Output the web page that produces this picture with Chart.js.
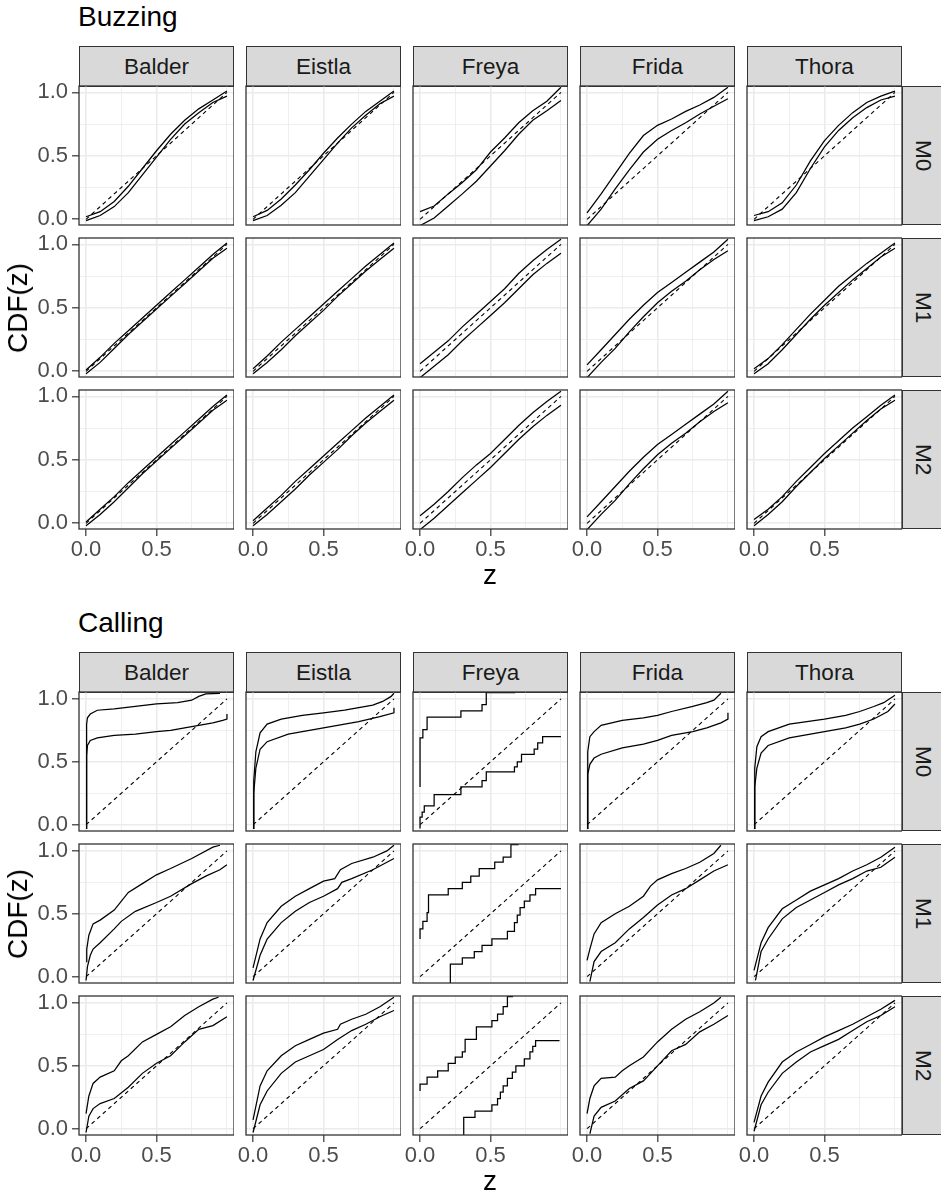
<!DOCTYPE html>
<html>
<head>
<meta charset="utf-8">
<script src="https://cdn.jsdelivr.net/npm/chart.js@4.4.1/dist/chart.umd.min.js"></script>
<style>
  body { margin: 0; background: #fff; font-family: "Liberation Sans", Arial, Helvetica, sans-serif; }
  #page { position: relative; width: 941px; height: 1195px; overflow: hidden; background: #fff; }
  canvas { position: absolute; }
  .title { position: absolute; font-size: 28px; line-height: 28px; color: #000; white-space: nowrap; }
  .strip { position: absolute; box-sizing: border-box; background: #d9d9d9; border: 1.3px solid #333;
           color: #1a1a1a; font-size: 22.5px; display: flex; align-items: center; justify-content: center; }
  .strip.side span { writing-mode: vertical-rl; }
  .axt { position: absolute; font-size: 28px; line-height: 28px; color: #000; white-space: nowrap; }
</style>
</head>
<body>
<div id="page"></div>
<script>
// facets
const sections = ["Buzzing", "Calling"];
const animals = ["Balder", "Eistla", "Freya", "Frida", "Thora"];
const models = ["M0", "M1", "M2"];

// axes
const xBreaks = [0, 0.25, 0.5, 0.75, 1];
const xLabels = ["0.0", "", "0.5", "", ""];
const yBreaks = [0, 0.25, 0.5, 0.75, 1];
const yLabels = ["0.0", "", "0.5", "", "1.0"];
const diagonal = [[0, 0], [1, 1]];

// Buzzing: envelope values at zGrid, one row per animal
const zGrid = [0, 0.1, 0.2, 0.3, 0.4, 0.5, 0.6, 0.7, 0.8, 0.9, 1.0];
const buzzM0Hi = [
  [0.02, 0.06, 0.14, 0.26, 0.40, 0.54, 0.67, 0.78, 0.87, 0.94, 1.01],
  [0.02, 0.07, 0.16, 0.27, 0.39, 0.52, 0.64, 0.75, 0.85, 0.93, 1.01],
  [0.06, 0.105, 0.20, 0.29, 0.39, 0.53, 0.64, 0.76, 0.855, 0.93, 1.04],
  [0.05, 0.20, 0.36, 0.52, 0.66, 0.74, 0.79, 0.85, 0.90, 0.96, 1.04],
  [0.03, 0.06, 0.13, 0.27, 0.46, 0.62, 0.74, 0.84, 0.92, 0.97, 1.01]
];
const buzzM0Lo = [
  [-0.01, 0.03, 0.10, 0.21, 0.35, 0.49, 0.63, 0.75, 0.84, 0.92, 0.97],
  [-0.01, 0.03, 0.11, 0.21, 0.34, 0.47, 0.60, 0.72, 0.82, 0.91, 0.97],
  [-0.05, 0.01, 0.105, 0.20, 0.30, 0.42, 0.54, 0.67, 0.78, 0.855, 0.935],
  [-0.05, 0.08, 0.24, 0.39, 0.53, 0.63, 0.70, 0.76, 0.83, 0.89, 0.95],
  [-0.01, 0.02, 0.08, 0.21, 0.40, 0.57, 0.70, 0.80, 0.88, 0.94, 0.97]
];
const buzzM1Hi = [
  [0.01, 0.11, 0.22, 0.32, 0.42, 0.52, 0.62, 0.72, 0.82, 0.92, 1.01],
  [0.02, 0.12, 0.23, 0.33, 0.43, 0.53, 0.63, 0.73, 0.83, 0.92, 1.01],
  [0.06, 0.15, 0.24, 0.35, 0.45, 0.55, 0.65, 0.77, 0.87, 0.96, 1.04],
  [0.05, 0.17, 0.29, 0.41, 0.52, 0.62, 0.70, 0.78, 0.86, 0.94, 1.04],
  [0.02, 0.10, 0.21, 0.33, 0.45, 0.56, 0.67, 0.76, 0.85, 0.93, 1.01]
];
const buzzM1Lo = [
  [-0.02, 0.07, 0.18, 0.29, 0.39, 0.49, 0.59, 0.69, 0.79, 0.89, 0.97],
  [-0.02, 0.07, 0.17, 0.28, 0.38, 0.48, 0.59, 0.69, 0.79, 0.88, 0.97],
  [-0.05, 0.04, 0.13, 0.24, 0.34, 0.44, 0.54, 0.65, 0.76, 0.85, 0.93],
  [-0.05, 0.07, 0.18, 0.31, 0.43, 0.54, 0.63, 0.71, 0.80, 0.88, 0.95],
  [-0.02, 0.06, 0.17, 0.29, 0.41, 0.52, 0.62, 0.72, 0.81, 0.90, 0.97]
];
const buzzM2Hi = [
  [0.01, 0.11, 0.21, 0.32, 0.42, 0.52, 0.62, 0.72, 0.82, 0.92, 1.01],
  [0.02, 0.12, 0.22, 0.33, 0.43, 0.53, 0.63, 0.73, 0.83, 0.92, 1.01],
  [0.06, 0.15, 0.25, 0.36, 0.46, 0.55, 0.66, 0.77, 0.87, 0.96, 1.04],
  [0.05, 0.17, 0.29, 0.41, 0.52, 0.62, 0.70, 0.78, 0.86, 0.94, 1.04],
  [0.03, 0.11, 0.21, 0.33, 0.44, 0.55, 0.65, 0.75, 0.84, 0.93, 1.01]
];
const buzzM2Lo = [
  [-0.02, 0.07, 0.17, 0.28, 0.39, 0.49, 0.59, 0.69, 0.79, 0.89, 0.97],
  [-0.02, 0.07, 0.17, 0.27, 0.38, 0.48, 0.58, 0.69, 0.79, 0.88, 0.97],
  [-0.05, 0.04, 0.14, 0.24, 0.34, 0.44, 0.55, 0.66, 0.76, 0.85, 0.93],
  [-0.05, 0.07, 0.18, 0.31, 0.43, 0.54, 0.63, 0.71, 0.80, 0.88, 0.95],
  [-0.02, 0.07, 0.17, 0.29, 0.40, 0.51, 0.61, 0.71, 0.81, 0.90, 0.97]
];

// Calling: [z, CDF] points, one list per animal (Freya is a step function)
const callM0Hi = [
  [[0, -0.03], [0.004, 0.80], [0.01, 0.85], [0.03, 0.88], [0.08, 0.91], [0.2, 0.92], [0.35, 0.94], [0.5, 0.96], [0.65, 0.97], [0.75, 0.99], [0.8, 1.02], [0.85, 1.04], [0.95, 1.045]],
  [[0, -0.03], [0.005, 0.35], [0.02, 0.58], [0.05, 0.73], [0.1, 0.80], [0.2, 0.84], [0.35, 0.87], [0.5, 0.89], [0.65, 0.91], [0.75, 0.93], [0.85, 0.95], [0.92, 0.98], [0.98, 1.02], [1.0, 1.045]],
  [[0, 0.30], [0, 0.61], [0.02, 0.69], [0.05, 0.755], [0.29, 0.855], [0.44, 0.905], [0.47, 0.955], [0.675, 1.05]],
  [[0, -0.03], [0.005, 0.58], [0.02, 0.70], [0.05, 0.74], [0.1, 0.79], [0.25, 0.83], [0.4, 0.85], [0.5, 0.87], [0.6, 0.90], [0.75, 0.94], [0.85, 0.97], [0.9, 0.99], [0.95, 1.045]],
  [[0, -0.03], [0.005, 0.45], [0.02, 0.62], [0.05, 0.70], [0.1, 0.74], [0.25, 0.80], [0.5, 0.84], [0.65, 0.87], [0.75, 0.90], [0.85, 0.94], [0.92, 0.97], [1.0, 1.03]]
];
const callM0Lo = [
  [[0, -0.03], [0.004, 0.55], [0.01, 0.63], [0.03, 0.67], [0.08, 0.69], [0.2, 0.71], [0.35, 0.72], [0.5, 0.74], [0.6, 0.75], [0.7, 0.77], [0.8, 0.79], [0.9, 0.81], [0.97, 0.83], [1.0, 0.84], [1.0, 0.88]],
  [[0, -0.03], [0.005, 0.25], [0.02, 0.45], [0.05, 0.60], [0.1, 0.66], [0.25, 0.72], [0.5, 0.77], [0.75, 0.82], [0.9, 0.86], [1.0, 0.89], [1.0, 0.93]],
  [[0, -0.03], [0, 0.02], [0.015, 0.06], [0.03, 0.10], [0.1, 0.15], [0.29, 0.24], [0.44, 0.30], [0.47, 0.35], [0.67, 0.42], [0.69, 0.46], [0.72, 0.50], [0.81, 0.56], [0.835, 0.60], [0.87, 0.65], [1.0, 0.70]],
  [[0, -0.03], [0.005, 0.40], [0.02, 0.48], [0.05, 0.53], [0.1, 0.56], [0.25, 0.61], [0.4, 0.64], [0.5, 0.67], [0.6, 0.71], [0.75, 0.74], [0.85, 0.77], [0.95, 0.81], [1.0, 0.84], [1.0, 0.89]],
  [[0, -0.03], [0.005, 0.30], [0.02, 0.45], [0.05, 0.57], [0.1, 0.63], [0.25, 0.69], [0.5, 0.74], [0.65, 0.77], [0.75, 0.80], [0.85, 0.84], [0.95, 0.90], [1.0, 0.96]]
];
const callM1Hi = [
  [[0, 0.12], [0.005, 0.22], [0.02, 0.33], [0.05, 0.42], [0.1, 0.45], [0.2, 0.53], [0.3, 0.67], [0.4, 0.74], [0.5, 0.81], [0.6, 0.86], [0.75, 0.94], [0.9, 1.03], [0.95, 1.045]],
  [[0, 0.07], [0.05, 0.30], [0.1, 0.43], [0.2, 0.56], [0.3, 0.64], [0.4, 0.70], [0.5, 0.76], [0.58, 0.78], [0.62, 0.85], [0.7, 0.90], [0.85, 0.95], [0.95, 1.0], [1.0, 1.045]],
  [[0, 0.30], [0.02, 0.38], [0.05, 0.44], [0.06, 0.51], [0.20, 0.65], [0.30, 0.70], [0.36, 0.75], [0.42, 0.80], [0.53, 0.86], [0.59, 0.91], [0.645, 0.95], [0.70, 1.05]],
  [[0, 0.13], [0.02, 0.22], [0.05, 0.34], [0.1, 0.43], [0.2, 0.50], [0.3, 0.56], [0.4, 0.64], [0.45, 0.72], [0.5, 0.77], [0.6, 0.82], [0.7, 0.86], [0.8, 0.91], [0.9, 0.98], [0.95, 1.045]],
  [[0, 0.05], [0.05, 0.27], [0.1, 0.39], [0.2, 0.54], [0.3, 0.61], [0.4, 0.68], [0.5, 0.73], [0.6, 0.78], [0.7, 0.84], [0.8, 0.89], [0.9, 0.95], [1.0, 1.03]]
];
const callM1Lo = [
  [[0, -0.03], [0.01, 0.08], [0.03, 0.17], [0.05, 0.22], [0.1, 0.27], [0.2, 0.38], [0.25, 0.44], [0.35, 0.52], [0.5, 0.59], [0.6, 0.64], [0.75, 0.74], [0.85, 0.80], [0.95, 0.85], [1.0, 0.89]],
  [[0, -0.03], [0.05, 0.17], [0.1, 0.30], [0.2, 0.43], [0.3, 0.52], [0.4, 0.59], [0.5, 0.64], [0.6, 0.70], [0.63, 0.75], [0.7, 0.78], [0.85, 0.85], [0.95, 0.91], [1.0, 0.94]],
  [[0.215, -0.05], [0.215, 0.06], [0.30, 0.10], [0.385, 0.15], [0.44, 0.20], [0.51, 0.25], [0.62, 0.30], [0.67, 0.36], [0.69, 0.43], [0.71, 0.49], [0.74, 0.55], [0.78, 0.60], [0.82, 0.65], [1.0, 0.70]],
  [[0.02, -0.04], [0.05, 0.12], [0.1, 0.20], [0.2, 0.27], [0.3, 0.38], [0.4, 0.47], [0.5, 0.57], [0.6, 0.65], [0.7, 0.70], [0.8, 0.77], [0.9, 0.84], [1.0, 0.89]],
  [[0.01, -0.03], [0.05, 0.20], [0.1, 0.30], [0.2, 0.46], [0.3, 0.55], [0.4, 0.61], [0.5, 0.67], [0.6, 0.73], [0.7, 0.78], [0.8, 0.84], [0.9, 0.87], [1.0, 0.95]]
];
const callM2Hi = [
  [[0, 0.12], [0.02, 0.26], [0.05, 0.36], [0.1, 0.41], [0.2, 0.46], [0.25, 0.54], [0.3, 0.58], [0.4, 0.69], [0.5, 0.75], [0.6, 0.81], [0.7, 0.90], [0.8, 0.97], [0.9, 1.03], [0.94, 1.045]],
  [[0, 0.07], [0.05, 0.34], [0.1, 0.46], [0.2, 0.58], [0.3, 0.66], [0.4, 0.71], [0.5, 0.76], [0.6, 0.79], [0.62, 0.83], [0.7, 0.87], [0.8, 0.91], [0.9, 0.97], [1.0, 1.045]],
  [[0, 0.30], [0.05, 0.355], [0.125, 0.41], [0.20, 0.46], [0.25, 0.52], [0.30, 0.57], [0.32, 0.61], [0.40, 0.71], [0.51, 0.81], [0.55, 0.86], [0.59, 0.91], [0.62, 0.97], [0.66, 1.05]],
  [[0, 0.12], [0.02, 0.24], [0.05, 0.34], [0.1, 0.40], [0.2, 0.41], [0.25, 0.46], [0.3, 0.50], [0.4, 0.57], [0.5, 0.69], [0.6, 0.79], [0.7, 0.87], [0.8, 0.93], [0.9, 1.0], [0.95, 1.045]],
  [[0, 0.05], [0.05, 0.26], [0.1, 0.37], [0.2, 0.53], [0.3, 0.61], [0.4, 0.67], [0.5, 0.73], [0.6, 0.78], [0.7, 0.83], [0.8, 0.89], [0.9, 0.95], [1.0, 1.02]]
];
const callM2Lo = [
  [[0, -0.03], [0.02, 0.10], [0.05, 0.16], [0.1, 0.20], [0.2, 0.24], [0.3, 0.33], [0.4, 0.44], [0.5, 0.52], [0.6, 0.58], [0.7, 0.69], [0.8, 0.79], [0.9, 0.82], [1.0, 0.89]],
  [[0, -0.03], [0.05, 0.19], [0.1, 0.30], [0.2, 0.44], [0.3, 0.53], [0.4, 0.58], [0.5, 0.63], [0.6, 0.71], [0.7, 0.78], [0.8, 0.83], [0.9, 0.89], [1.0, 0.94]],
  [[0.31, -0.05], [0.31, 0.01], [0.39, 0.09], [0.51, 0.14], [0.55, 0.19], [0.57, 0.24], [0.59, 0.29], [0.62, 0.34], [0.655, 0.40], [0.68, 0.45], [0.74, 0.50], [0.78, 0.555], [0.80, 0.61], [0.82, 0.655], [0.99, 0.70]],
  [[0.02, -0.04], [0.05, 0.10], [0.1, 0.17], [0.2, 0.22], [0.3, 0.32], [0.4, 0.38], [0.5, 0.50], [0.6, 0.62], [0.7, 0.67], [0.8, 0.77], [0.9, 0.83], [1.0, 0.90]],
  [[0, -0.02], [0.05, 0.19], [0.1, 0.29], [0.2, 0.44], [0.3, 0.53], [0.4, 0.61], [0.5, 0.66], [0.6, 0.71], [0.7, 0.78], [0.8, 0.85], [0.9, 0.90], [1.0, 0.97]]
];

const FONT = '"Liberation Sans", Arial, Helvetica, sans-serif';
Chart.defaults.font.family = FONT;

const page = document.getElementById("page");
const panelW = 155, panelH = 139, rowStep = 152;
const colLeft = (c) => 79 + 167 * c;
const sectionTop = [86, 692];
const yRange = [[-0.045, 1.05], [-0.05, 1.055]];

function addDiv(cls, css, html) {
  const d = document.createElement("div");
  d.className = cls;
  d.style.cssText = css;
  d.innerHTML = html;
  page.appendChild(d);
  return d;
}

// ggplot-like panel border, drawn on top of the data
const panelBorder = {
  id: "panelBorder",
  afterDraw(chart) {
    const { ctx, chartArea: a } = chart;
    ctx.save();
    ctx.strokeStyle = "#333333";
    ctx.lineWidth = 1.3;
    ctx.strokeRect(a.left, a.top, a.right - a.left, a.bottom - a.top);
    ctx.restore();
  },
};

const toXY = (pairs) => pairs.map((p) => ({ x: p[0], y: p[1] }));

function makePanel(s, r, c) {
  const leftCol = c === 0, bottomRow = r === 2;
  const L = leftCol ? 79 : 12, T = 10, B = bottomRow ? 50 : 10;
  const cv = document.createElement("canvas");
  cv.width = L + panelW;
  cv.height = T + panelH + B;
  cv.style.left = colLeft(c) - L + "px";
  cv.style.top = sectionTop[s] + rowStep * r - T + "px";
  page.appendChild(cv);

  let hi, lo;
  if (s === 0) {
    const H = [buzzM0Hi, buzzM1Hi, buzzM2Hi][r][c];
    const Lw = [buzzM0Lo, buzzM1Lo, buzzM2Lo][r][c];
    hi = zGrid.map((z, i) => ({ x: z, y: H[i] }));
    lo = zGrid.map((z, i) => ({ x: z, y: Lw[i] }));
  } else {
    hi = toXY([callM0Hi, callM1Hi, callM2Hi][r][c]);
    lo = toXY([callM0Lo, callM1Lo, callM2Lo][r][c]);
  }
  const stepped = s === 1 && animals[c] === "Freya" ? "after" : false;

  const gridColor = "#EBEBEB";
  new Chart(cv, {
    type: "line",
    data: {
      datasets: [
        { data: hi, borderColor: "#000", borderWidth: 1.25, stepped: stepped },
        { data: lo, borderColor: "#000", borderWidth: 1.25, stepped: stepped },
        { data: toXY(diagonal), borderColor: "#000", borderWidth: 1.1, borderDash: [4, 3.5] },
      ],
    },
    options: {
      responsive: false,
      animation: false,
      devicePixelRatio: 1,
      layout: { padding: { top: T, left: 0, right: 0, bottom: 0 } },
      plugins: { legend: { display: false }, tooltip: { enabled: false } },
      elements: { point: { radius: 0 }, line: { tension: 0 } },
      scales: {
        x: {
          type: "linear",
          min: -0.05,
          max: 1.05,
          afterBuildTicks: (sc) => { sc.ticks = xBreaks.map((v) => ({ value: v })); },
          afterFit: (sc) => { sc.height = B; sc.paddingLeft = 0; sc.paddingRight = 0; },
          border: { display: false },
          grid: {
            color: gridColor,
            lineWidth: (ctx) => (xLabels[ctx.index] ? 1.6 : 0.8),
            drawTicks: bottomRow,
            tickLength: 7,
            tickWidth: 1.2,
            tickColor: (ctx) => (xLabels[ctx.index] ? "#333333" : "rgba(0,0,0,0)"),
          },
          ticks: {
            display: bottomRow,
            autoSkip: false,
            maxRotation: 0,
            padding: 1,
            color: "#4D4D4D",
            font: { size: 22 },
            callback: (v, i) => xLabels[i],
          },
        },
        y: {
          type: "linear",
          min: yRange[s][0],
          max: yRange[s][1],
          afterBuildTicks: (sc) => { sc.ticks = yBreaks.map((v) => ({ value: v })); },
          afterFit: (sc) => { sc.width = L; sc.paddingTop = 0; sc.paddingBottom = 0; },
          border: { display: false },
          grid: {
            color: gridColor,
            lineWidth: (ctx) => (yLabels[ctx.index] ? 1.6 : 0.8),
            drawTicks: leftCol,
            tickLength: 7,
            tickWidth: 1.2,
            tickColor: (ctx) => (yLabels[ctx.index] ? "#333333" : "rgba(0,0,0,0)"),
          },
          ticks: {
            display: leftCol,
            padding: 4,
            color: "#4D4D4D",
            font: { size: 22 },
            callback: (v, i) => yLabels[i],
          },
        },
      },
    },
    plugins: [panelBorder],
  });
}

sections.forEach((name, s) => {
  const top0 = sectionTop[s];
  // section title
  addDiv("title", `left:78px;top:${top0 - 83}px;`, name);
  // column strips
  animals.forEach((a, c) => {
    addDiv("strip", `left:${colLeft(c)}px;top:${top0 - 40}px;width:${panelW}px;height:41px;`, a);
  });
  models.forEach((m, r) => {
    // row strip on the right
    addDiv("strip side", `left:902px;top:${top0 + rowStep * r}px;width:41px;height:${panelH}px;`, `<span>${m}</span>`);
    animals.forEach((a, c) => makePanel(s, r, c));
  });
  // axis titles
  const midY = top0 + (rowStep * 2 + panelH) / 2;
  addDiv("axt", `left:18px;top:${midY}px;transform:translate(-50%,-50%) rotate(-90deg);`, "CDF(z)");
  addDiv("axt", `left:490px;top:${top0 + 475}px;transform:translateX(-50%);`, "z");
});
</script>
</body>
</html>
